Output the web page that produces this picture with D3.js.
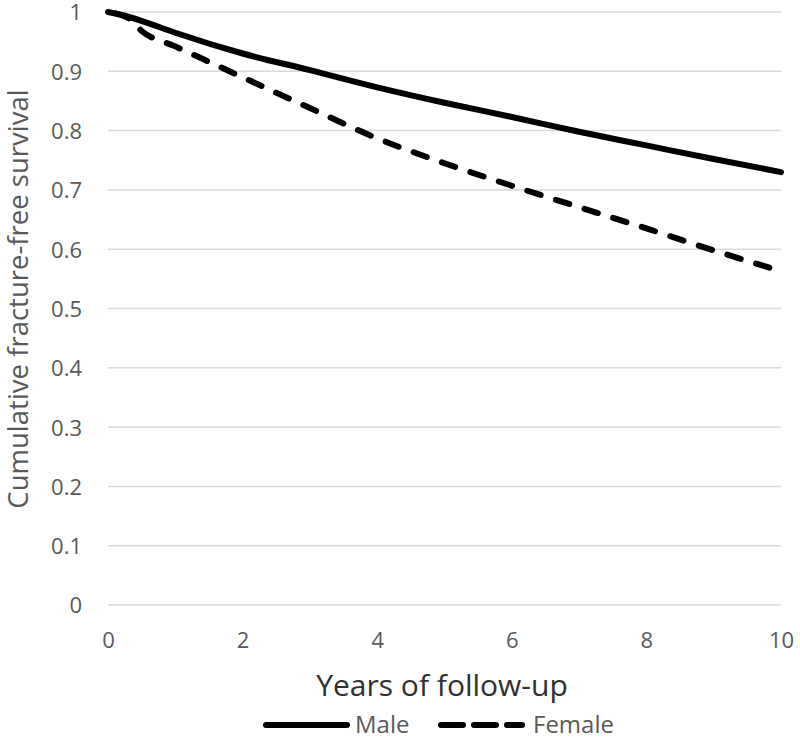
<!DOCTYPE html>
<html>
<head>
<meta charset="utf-8">
<script src="https://cdn.jsdelivr.net/npm/d3@7"></script>
<style>
  html, body { margin: 0; padding: 0; background: #fff; }
  svg { display: block; font-family: "Open Sans", "Noto Sans", sans-serif; }
</style>
</head>
<body>
<svg id="chart" width="800" height="739"></svg>
<script>
const years = [0, 0.3, 0.5, 1, 2, 3, 4, 5, 6, 7, 8, 9, 10];
const maleSurvival = [1.0, 0.992, 0.985, 0.965, 0.93, 0.902, 0.873, 0.847, 0.823, 0.798, 0.775, 0.752, 0.73];
const femaleSurvival = [1.0, 0.99, 0.968, 0.942, 0.89, 0.838, 0.787, 0.745, 0.707, 0.671, 0.635, 0.598, 0.563];
const xTicks = [0, 2, 4, 6, 8, 10];
const yTicks = [0, 0.1, 0.2, 0.3, 0.4, 0.5, 0.6, 0.7, 0.8, 0.9, 1];
const seriesNames = ["Male", "Female"];
const xTitle = "Years of follow-up";
const yTitle = "Cumulative fracture-free survival";

const svg = d3.select("#chart");
const x = d3.scaleLinear().domain([0, 10]).range([108, 781]);
const y = d3.scaleLinear().domain([0, 1]).range([605, 12]);

// gridlines
svg.append("g")
  .selectAll("line")
  .data(yTicks)
  .join("line")
  .attr("x1", x(0)).attr("x2", x(10))
  .attr("y1", d => y(d)).attr("y2", d => y(d))
  .attr("stroke", "#d9d9d9").attr("stroke-width", 1.5);

// y tick labels
const yAxis = d3.axisLeft(y).tickValues(yTicks).tickSize(0).tickPadding(0)
  .tickFormat(d => d3.format("")(+d.toFixed(1)));
svg.append("g")
  .attr("transform", "translate(82,0)")
  .call(yAxis)
  .call(g => g.select(".domain").remove())
  .call(g => g.selectAll("text")
    .attr("fill", "#595959")
    .attr("dy", "0.36em")
    .style("font-size", "22px")
    .style("font-family", "'Open Sans', sans-serif"));

// x tick labels
const xAxis = d3.axisBottom(x).tickValues(xTicks).tickSize(0).tickPadding(0);
svg.append("g")
  .attr("transform", "translate(0,632)")
  .call(xAxis)
  .call(g => g.select(".domain").remove())
  .call(g => g.selectAll("text")
    .attr("fill", "#595959")
    .style("font-size", "22px")
    .style("font-family", "'Open Sans', sans-serif"));

// lines
const line = d3.line().x((d, i) => x(years[i])).y(d => y(d)).curve(d3.curveMonotoneX);
svg.append("path")
  .attr("d", line(maleSurvival))
  .attr("fill", "none").attr("stroke", "#000")
  .attr("stroke-width", 6).attr("stroke-linejoin", "round").attr("stroke-linecap", "round");
svg.append("path")
  .attr("d", line(femaleSurvival))
  .attr("fill", "none").attr("stroke", "#000")
  .attr("stroke-width", 6).attr("stroke-dasharray", "14,16").attr("stroke-dashoffset", -8)
  .attr("stroke-linecap", "round");

// axis titles
svg.append("text")
  .attr("x", 442).attr("y", 696)
  .attr("text-anchor", "middle")
  .attr("fill", "#303030")
  .style("font-size", "30px")
  .text(xTitle);
svg.append("text")
  .attr("transform", "translate(28,299) rotate(-90)")
  .attr("text-anchor", "middle")
  .attr("fill", "#595959")
  .style("font-size", "27.5px")
  .text(yTitle);

// legend
const legend = svg.append("g");
legend.append("line")
  .attr("x1", 266).attr("x2", 347).attr("y1", 725).attr("y2", 725)
  .attr("stroke", "#000").attr("stroke-width", 6).attr("stroke-linecap", "round");
legend.append("text")
  .attr("x", 355).attr("y", 733)
  .attr("fill", "#595959").style("font-size", "24px")
  .text(seriesNames[0]);
legend.append("line")
  .attr("x1", 441).attr("x2", 522).attr("y1", 725).attr("y2", 725)
  .attr("stroke", "#000").attr("stroke-width", 6).attr("stroke-linecap", "round")
  .attr("stroke-dasharray", "22,11");
legend.append("text")
  .attr("x", 533).attr("y", 733)
  .attr("fill", "#595959").style("font-size", "24px")
  .text(seriesNames[1]);
</script>
</body>
</html>
